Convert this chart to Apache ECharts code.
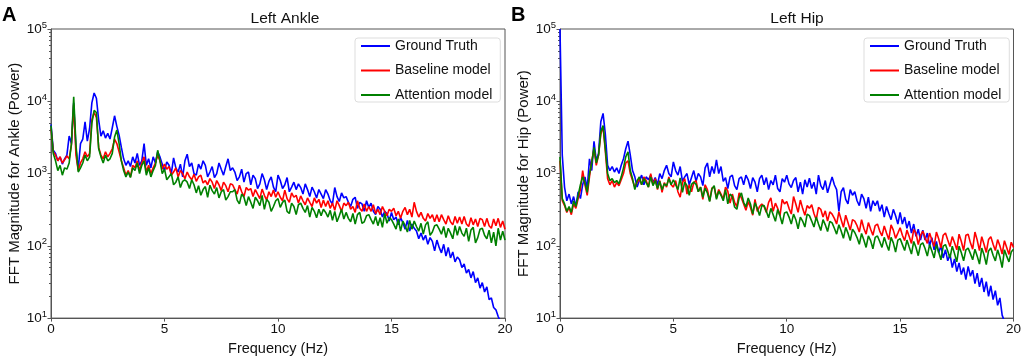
<!DOCTYPE html>
<html>
<head>
<meta charset="utf-8">
<script src="https://cdn.jsdelivr.net/npm/echarts@6/dist/echarts.min.js"></script>
<style>
  html, body { margin: 0; padding: 0; background: #fff; }
  #main { width: 1024px; height: 361px; }
</style>
</head>
<body>
<div id="main"></div>
<script>
// spectra sampled every 0.1 Hz, 0 .. 20 Hz
var freqStep = 0.1;

var seriesNames = ['Ground Truth', 'Baseline model', 'Attention model'];
var seriesColors = ['#0000ff', '#ff0000', '#008000'];
var panelTitles = ['Left Ankle', 'Left Hip'];
var yNames = ['FFT Magnitude for Ankle (Power)', 'FFT Magnitude for Hip (Power)'];
var minorTicks = [20, 30, 40, 50, 60, 70, 80, 90,
    200, 300, 400, 500, 600, 700, 800, 900,
    2000, 3000, 4000, 5000, 6000, 7000, 8000, 9000,
    20000, 30000, 40000, 50000, 60000, 70000, 80000, 90000];

// Left Ankle
var ankleTruth = [
    4800, 2100, 1900, 1500, 1700, 1350, 1600, 1800, 3300, 2600,
    9500, 2200, 1150, 2600, 3000, 5200, 2800, 4200, 9500, 13000,
    11000, 5500, 3300, 3900, 3100, 3600, 3000, 4300, 6300, 4500,
    3400, 2300, 1600, 1300, 1500, 1250, 1700, 1400, 1900, 1300,
    1500, 2600, 1300, 1600, 1200, 1700, 1400, 2000, 1700, 1350,
    1100, 1450, 1300, 1000, 1650, 1200, 1050, 1350, 900, 1500,
    1850, 1250, 1400, 1000, 950, 1350, 1150, 1500, 1300, 900,
    1050, 1250, 880, 1000, 1400, 1150, 950, 1250, 1600, 1100,
    1200, 1050, 800, 900, 1150, 760, 1000, 1050, 700, 950,
    850, 620, 720, 1000, 820, 600, 780, 900, 650, 560,
    950, 800, 620, 700, 880, 560, 650, 760, 600, 720,
    640, 520, 720, 600, 480, 650, 560, 460, 600, 520,
    450, 600, 520, 420, 380, 640, 480, 410, 540, 460,
    480, 400, 350, 440, 470, 330, 400, 380, 300, 420,
    340, 390, 300, 270, 350, 320, 250, 300, 280, 220,
    290, 230, 250, 195, 245, 210, 170, 225, 160, 200,
    175, 160, 125, 150, 120, 140, 105, 130, 115, 85,
    120, 95, 80, 105, 72, 95, 68, 82, 60, 70,
    64, 50, 56, 42, 47, 36, 44, 31, 36, 26,
    31, 23, 27, 18, 19, 14, 13, 10.5, 9, 8,
    7
];
var ankleBaseline = [
    4200, 2000, 1800, 1500, 1700, 1400, 1550, 1750, 1600, 2500,
    9000, 1800, 1100, 1400, 1600, 2000, 1700, 1900, 5500, 7000,
    6000, 2300, 1800, 1600, 2000, 1700, 1900, 2200, 3000, 2600,
    2000, 1500, 1200, 950, 1100, 900, 1300, 1200, 1500, 1100,
    1400, 1700, 1050, 1300, 1000, 1200, 1400, 1800, 1500, 1150,
    1350, 1150, 1250, 950, 1050, 1200, 900, 1100, 1000, 850,
    1050, 900, 820, 980, 780, 900, 950, 740, 800, 700,
    850, 760, 620, 800, 700, 580, 760, 680, 560, 720,
    700, 600, 520, 690, 560, 480, 640, 590, 620, 480,
    600, 520, 450, 610, 500, 430, 560, 480, 590, 470,
    560, 470, 420, 590, 450, 400, 540, 470, 500, 390,
    490, 420, 370, 460, 400, 350, 460, 390, 440, 340,
    430, 350, 420, 330, 390, 310, 420, 360, 300, 390,
    360, 400, 320, 350, 290, 420, 330, 300, 380, 300,
    350, 300, 370, 280, 320, 270, 350, 300, 260, 320,
    300, 330, 260, 300, 240, 300, 340, 270, 320, 250,
    400, 300, 250, 290, 240, 220, 280, 240, 270, 215,
    270, 215, 270, 230, 200, 260, 215, 195, 255, 205,
    250, 200, 255, 200, 185, 245, 195, 235, 185, 240,
    230, 185, 240, 190, 175, 235, 190, 240, 180, 220,
    170
];
var ankleAttention = [
    4600, 1900, 1500, 1100, 1300, 950, 1200, 1150, 1400, 2600,
    11500, 2500, 1050, 1200, 1400, 1800, 1500, 1700, 5000, 7500,
    7000, 2200, 1700, 1400, 1800, 1500, 1600, 1900, 3200, 4000,
    2600, 1500, 1100, 900, 1050, 880, 1200, 1100, 1400, 1000,
    1300, 1500, 950, 1200, 900, 1100, 1300, 2100, 1500, 1000,
    1150, 820, 900, 1000, 700, 760, 900, 640, 780, 820,
    760, 620, 820, 700, 540, 680, 500, 600, 660, 470,
    690, 580, 520, 640, 460, 560, 600, 430, 480, 560,
    560, 600, 430, 380, 520, 470, 360, 480, 400, 330,
    470, 420, 360, 500, 320, 440, 400, 300, 350, 420,
    450, 340, 400, 430, 300, 280, 390, 350, 270, 370,
    390, 330, 290, 360, 250, 340, 300, 245, 320, 260,
    320, 290, 250, 310, 225, 300, 215, 260, 320, 235,
    290, 240, 215, 280, 200, 270, 290, 205, 215, 260,
    270, 230, 200, 255, 190, 245, 180, 280, 205, 245,
    230, 200, 170, 235, 160, 220, 190, 155, 225, 170,
    220, 185, 160, 205, 145, 195, 215, 140, 155, 190,
    195, 170, 145, 185, 130, 175, 150, 125, 190, 140,
    185, 150, 135, 175, 115, 165, 180, 110, 130, 170,
    175, 140, 125, 165, 110, 155, 100, 175, 120, 160,
    120
];

// Left Hip
var hipTruth = [
    100000, 1800, 650, 420, 520, 380, 480, 350, 560, 450,
    700, 900, 620, 1600, 1100, 2800, 1500, 1900, 5200, 6800,
    3500, 1300, 1100, 1250, 1050, 1200, 1000, 1300, 1600, 2200,
    2800, 1800, 1100, 900, 650, 800, 950, 700, 900, 820,
    950, 750, 880, 700, 1000, 850, 1100, 1300, 1000, 900,
    1450, 1100, 950, 1250, 780, 900, 1000, 700, 880, 1100,
    780, 1000, 900, 680, 1200, 1400, 900, 1250, 1000, 1550,
    1000, 1250, 780, 880, 620, 900, 950, 680, 600, 850,
    900, 700, 950, 820, 620, 880, 760, 560, 850, 950,
    700, 880, 600, 800, 700, 950, 620, 560, 850, 760,
    950, 720, 640, 800, 880, 560, 760, 520, 820, 650,
    860, 620, 760, 520, 950, 680, 600, 800, 540, 700,
    900, 700, 600, 300, 560, 640, 440, 380, 600, 500,
    560, 420, 360, 520, 450, 330, 470, 300, 420, 360,
    420, 300, 370, 250, 350, 280, 230, 320, 260, 200,
    290, 200, 250, 175, 220, 150, 200, 135, 170, 120,
    165, 120, 150, 100, 130, 88, 115, 80, 100, 68,
    88, 62, 76, 50, 66, 44, 58, 40, 50, 34,
    52, 38, 46, 30, 42, 27, 36, 23, 32, 20,
    28, 18, 24, 15, 19, 11, 9, 8, 7, 6,
    6
];
var hipBaseline = [
    1500, 420, 360, 290, 340, 270, 380, 330, 450, 600,
    1100, 700, 500, 900, 1500, 2200, 1300, 1800, 3500, 4500,
    2000, 850, 700, 800, 650, 750, 680, 820, 1000, 1400,
    1500, 1000, 800, 650, 750, 850, 700, 900, 800, 650,
    1000, 700, 850, 600, 800, 550, 750, 650, 900, 700,
    650, 800, 560, 470, 750, 850, 520, 700, 560, 750,
    800, 560, 650, 440, 700, 600, 420, 630, 650, 460,
    600, 520, 440, 650, 570, 390, 520, 400, 350, 540,
    460, 380, 310, 410, 340, 265, 440, 300, 350, 380,
    350, 290, 400, 460, 300, 390, 330, 260, 440, 380,
    410, 330, 275, 480, 380, 290, 430, 330, 265, 360,
    330, 370, 280, 230, 340, 320, 250, 305, 220, 295,
    275, 240, 200, 295, 230, 180, 265, 210, 165, 230,
    220, 190, 155, 230, 175, 145, 210, 170, 140, 190,
    200, 160, 137, 188, 150, 122, 195, 165, 127, 150,
    178, 140, 118, 165, 135, 108, 168, 150, 104, 140,
    160, 130, 108, 150, 120, 98, 155, 125, 94, 140,
    150, 120, 98, 134, 110, 88, 145, 115, 86, 140,
    145, 110, 90, 155, 120, 86, 134, 105, 81, 122,
    134, 105, 86, 122, 100, 77, 118, 95, 76, 112,
    95
];
var hipAttention = [
    1700, 450, 380, 300, 350, 290, 420, 350, 500, 700,
    900, 750, 550, 1000, 1400, 2300, 1400, 1800, 3800, 4600,
    2200, 1000, 800, 850, 750, 800, 720, 900, 1200, 1700,
    2000, 1100, 850, 600, 800, 900, 700, 850, 750, 650,
    900, 680, 800, 620, 780, 600, 720, 680, 850, 700,
    820, 700, 600, 870, 550, 760, 680, 500, 710, 760,
    710, 560, 650, 470, 630, 540, 410, 610, 680, 440,
    570, 500, 420, 600, 380, 520, 480, 345, 320, 460,
    540, 400, 345, 460, 380, 275, 395, 330, 262, 360,
    360, 300, 245, 330, 270, 218, 318, 260, 200, 285,
    295, 250, 200, 275, 230, 172, 250, 220, 182, 275,
    262, 220, 182, 250, 200, 163, 230, 195, 158, 218,
    208, 175, 145, 196, 160, 127, 180, 150, 118, 170,
    153, 130, 105, 148, 120, 95, 137, 118, 91, 131,
    137, 115, 95, 131, 105, 86, 131, 110, 82, 120,
    126, 104, 86, 120, 96, 77, 115, 95, 73, 104,
    110, 92, 72, 104, 85, 68, 104, 82, 64, 99,
    104, 85, 68, 99, 78, 60, 99, 80, 62, 88,
    93, 78, 64, 90, 72, 56, 93, 75, 55, 85,
    93, 74, 62, 88, 70, 50, 88, 72, 60, 82,
    90
];

var panels = [
    [ankleTruth, ankleBaseline, ankleAttention],
    [hipTruth, hipBaseline, hipAttention]
];

var fontFamily = '"Liberation Sans", Arial, sans-serif';
var gridLefts = [51, 560];
var titleCenters = [285, 797];
var legendLefts = [355, 864];

function toPairs(vals) {
    return vals.map(function (v, i) {
        return [Math.round(i * freqStep * 10) / 10, v];
    });
}

var grids = [], xAxes = [], yAxes = [], series = [], legends = [], graphics = [];

panels.forEach(function (panel, p) {
    grids.push({
        left: gridLefts[p], top: 29, width: 454, height: 294,
        show: true, borderColor: '#555', borderWidth: 1, backgroundColor: '#fff'
    });
    xAxes.push({
        gridIndex: p, type: 'value', min: 0, max: 20, interval: 5,
        name: 'Frequency (Hz)', nameLocation: 'middle', nameGap: 20,
        nameTextStyle: { fontSize: 14.5, color: '#111', fontFamily: fontFamily },
        axisLine: { show: true, lineStyle: { color: '#555' } },
        axisTick: { show: true, length: 3.5, inside: false, lineStyle: { color: '#555' } },
        axisLabel: { fontSize: 13.5, color: '#111', margin: 4, fontFamily: fontFamily },
        splitLine: { show: false }
    });
    // major ticks and labels
    yAxes.push({
        gridIndex: p, type: 'log', logBase: 10, min: 10, max: 100000,
        name: yNames[p], nameLocation: 'middle', nameGap: 25, nameRotate: 90,
        nameTextStyle: { fontSize: 15, color: '#111', fontFamily: fontFamily },
        axisLine: { show: true, lineStyle: { color: '#555' } },
        axisTick: { show: true, length: 3.5, lineStyle: { color: '#555' } },
        axisLabel: {
            margin: 4, color: '#111', fontFamily: fontFamily,
            formatter: function (val) {
                return '{b|10}{e|' + Math.round(Math.log(val) / Math.LN10) + '}';
            },
            rich: {
                b: { fontSize: 13.5, color: '#111', fontFamily: fontFamily },
                e: { fontSize: 9.5, color: '#111', fontFamily: fontFamily, padding: [0, 0, 8, 0] }
            }
        },
        splitLine: { show: false }
    });
    // minor ticks
    yAxes.push({
        gridIndex: p, type: 'log', logBase: 10, min: 10, max: 100000, position: 'left',
        axisLine: { show: false },
        axisTick: { show: true, length: 2, customValues: minorTicks, lineStyle: { color: '#555' } },
        axisLabel: { show: false },
        splitLine: { show: false }
    });

    panel.forEach(function (vals, s) {
        series.push({
            name: seriesNames[s], type: 'line',
            xAxisIndex: p, yAxisIndex: p * 2,
            data: toPairs(vals),
            symbol: 'none', showSymbol: false, clip: true,
            lineStyle: { width: 1.6, color: seriesColors[s] },
            itemStyle: { color: seriesColors[s] },
            z: 2 + s
        });
    });

    legends.push({
        data: seriesNames, orient: 'vertical',
        left: legendLefts[p], top: 38,
        icon: 'rect', itemWidth: 29, itemHeight: 2, itemGap: 10.5,
        padding: [1, 8, 0, 6],
        backgroundColor: '#fff', borderColor: '#ddd', borderWidth: 1, borderRadius: 3,
        textStyle: { fontSize: 14, lineHeight: 14, color: '#111', fontFamily: fontFamily },
        selectedMode: false
    });

    graphics.push({
        type: 'text', x: titleCenters[p], y: 19,
        style: {
            text: panelTitles[p], fontSize: 15.5, fill: '#111', fontFamily: fontFamily,
            align: 'center', verticalAlign: 'middle'
        }
    });
});

graphics.push({
    type: 'text', x: 2, y: 15,
    style: { text: 'A', fontSize: 20, fontWeight: 'bold', fill: '#000', fontFamily: fontFamily, verticalAlign: 'middle' }
});
graphics.push({
    type: 'text', x: 511, y: 15,
    style: { text: 'B', fontSize: 20, fontWeight: 'bold', fill: '#000', fontFamily: fontFamily, verticalAlign: 'middle' }
});

var myChart = echarts.init(document.getElementById('main'), null, { renderer: 'canvas' });
var option = {
    backgroundColor: '#fff',
    animation: false,
    color: seriesColors,
    grid: grids,
    xAxis: xAxes,
    yAxis: yAxes,
    legend: legends,
    series: series,
    graphic: graphics
};
myChart.setOption(option);
</script>
</body>
</html>
